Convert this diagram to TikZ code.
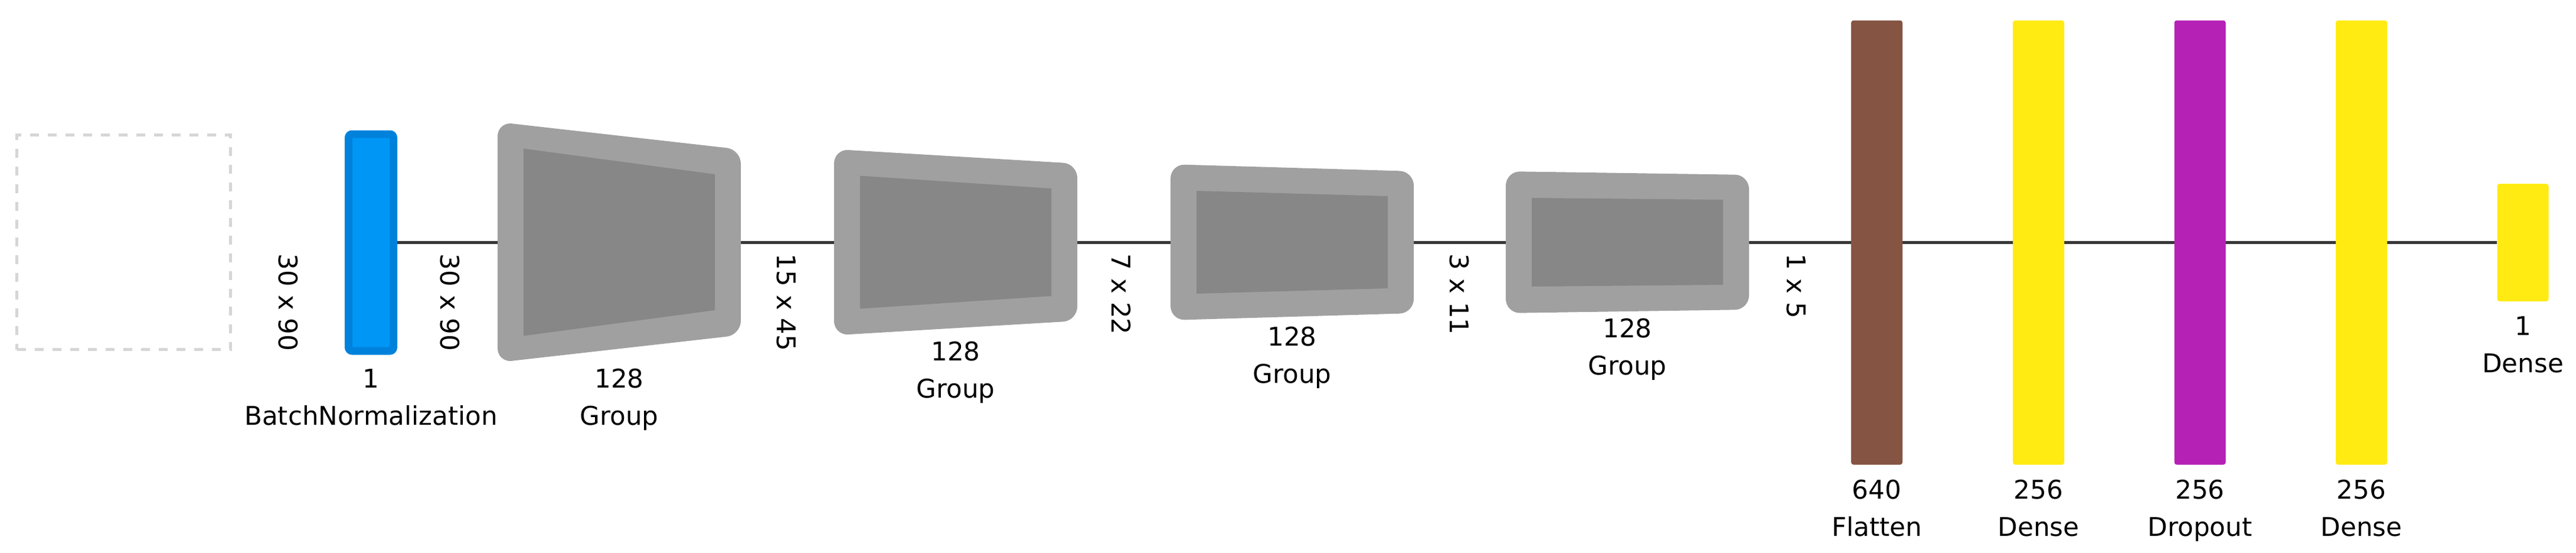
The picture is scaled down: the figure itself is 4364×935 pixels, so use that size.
\documentclass[tikz,border=0pt]{standalone}
\usepackage{fontspec}
\setmainfont{DejaVu Sans}
\usetikzlibrary{backgrounds}

\definecolor{bnfill}{RGB}{0,150,245}
\definecolor{bndraw}{RGB}{0,130,220}
\definecolor{flattenfill}{RGB}{133,84,67}
\definecolor{densefill}{RGB}{255,235,18}
\definecolor{dropoutfill}{RGB}{181,33,181}
\definecolor{groupouter}{RGB}{160,160,160}
\definecolor{groupinner}{RGB}{135,135,135}
\definecolor{inputdraw}{RGB}{214,214,214}
\definecolor{linkcolor}{RGB}{56,56,56}

\tikzset{%
  every layer/.style={
    rectangle,
    rounded corners=1pt,
    inner sep=0pt,
    minimum width=21.75pt,
    minimum height=188pt
  },
  layer flatten/.style={fill=flattenfill},
  layer dense/.style={fill=densefill},
  layer dropout/.style={fill=dropoutfill},
  layer output/.style={fill=densefill, minimum height=49.75pt},
  layer label/.style={
    anchor=base,
    inner sep=0pt,
    font=\fontsize{10.9}{13}\selectfont
  },
  shape label/.style={layer label, rotate=-90, anchor=west},
  group outer/.style={fill=groupouter, rounded corners=6pt},
  group inner/.style={fill=groupinner},
}

\begin{document}
\begin{tikzpicture}[x=0.25pt, y=-0.25pt]
\useasboundingbox (0,0) rectangle (4364,935);

\node [draw=inputdraw, line width=1.25pt, dash pattern=on 3.75pt off 3.75pt,
  minimum width=90.5pt, minimum height=90.75pt, inner sep=0pt] (input) at (209.5,410) {};

\node [fill=bnfill, draw=bndraw, line width=3.25pt, rounded corners=1.5pt,
  minimum width=19pt, minimum height=91.75pt, inner sep=0pt] (bn) at (628.5,410.5) {};

\foreach \l/\a/\b in {843/203.5/157, 1413/157.5/133, 1983/132/120, 2551/120/114} {
  \fill [group outer] (\l,410-\a) -- (\l+412,410-\b) -- (\l+412,410+\b) -- (\l,410+\a) -- cycle;
  \fill [group inner] (\l+44,410-\a+45) -- (\l+368,410-\b+42) -- (\l+368,410+\b-42) -- (\l+44,410+\a-45) -- cycle;
}

\foreach \m/\x [count=\i] in {flatten/3179.5, dense/3453.5, dropout/3727, dense/4000.5}
  \node [every layer, layer \m] (layer-\i) at (\x,410.5) {};

\node [every layer, layer output] (output) at (4274,410.5) {};

\begin{pgfonlayer}{background}
\draw [linkcolor, line width=1.05pt] (bn) -- (output);
\end{pgfonlayer}

\foreach \x/\d [count=\i] in {488/30 x 90, 762/30 x 90, 1332/15 x 45, 1900/7 x 22, 2472/3 x 11, 3043/1 x 5}
  \node [shape label] (dim-\i) at (\x,429) {\d};

\foreach \x/\y/\n/\t [count=\i] in {628.5/656/1/BatchNormalization, 1049/656/128/Group,
    1619/610/128/Group, 2189/585/128/Group, 2757/571/128/Group, 3179.5/844/640/Flatten,
    3453.5/844/256/Dense, 3727/844/256/Dropout, 4000.5/844/256/Dense, 4274/567/1/Dense} {
  \node [layer label] (size-\i) at (\x,\y) {\n};
  \node [layer label] (name-\i) at (\x,\y+63) {\t};
}

\end{tikzpicture}
\end{document}
